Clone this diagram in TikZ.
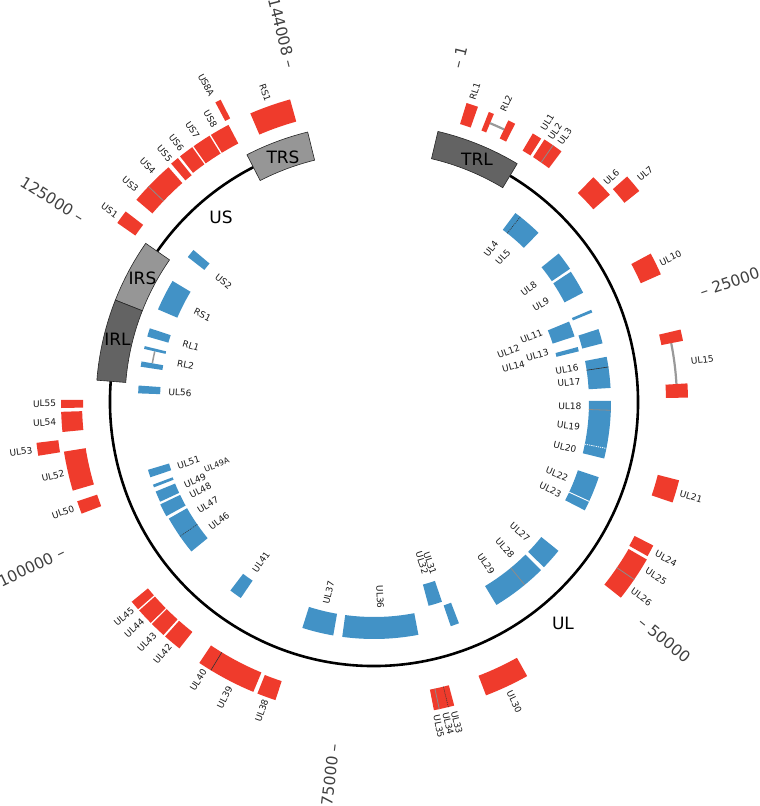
\documentclass[tikz,border=0pt]{standalone}
\usepackage{fontspec}
\setmainfont{DejaVu Sans}
\definecolor{gred}{HTML}{EF3B2C}
\definecolor{gblue}{HTML}{4292C6}
\definecolor{rdark}{HTML}{636363}
\definecolor{rlight}{HTML}{969696}
\newcommand{\sect}[5]{\path[#1] (#2:#4pt) arc[start angle=#2, end angle=#3, radius=#4pt] -- (#3:#5pt) arc[start angle=#3, end angle=#2, radius=#5pt] -- cycle;}
\newcommand{\divl}[4]{\draw[#1] (#2:#3pt) -- (#2:#4pt);}
\newcommand{\glab}[4]{\pgfmathsetmacro{\labrot}{cos(#2)>=0 ? #2 : #2+180}\node[lbl, rotate=\labrot] (#1) at (#2:#3pt) {#4};}
\newcommand{\ticklab}[3]{%
  \pgfmathtruncatemacro{\tright}{cos(#2)>=0 ? 1 : 0}%
  \ifnum\tright=1
    \node[tk, rotate=#2, anchor=west] (#1) at (#2:344pt) {\textendash\ #3};
  \else
    \pgfmathsetmacro{\trot}{#2+180}%
    \node[tk, rotate=\trot, anchor=east] (#1) at (#2:344pt) {#3 \textendash};
  \fi}
\begin{document}
\begin{tikzpicture}[x=1pt,y=1pt,
  red/.style={fill=gred},
  blue/.style={fill=gblue},
  rdk/.style={fill=rdark, draw=black!85, line width=0.6pt},
  rlt/.style={fill=rlight, draw=black!85, line width=0.6pt},
  lbl/.style={font=\fontsize{9}{10}\selectfont, text=black!90, inner sep=0pt},
  slbl/.style={font=\fontsize{8}{9}\selectfont, text=black!90, inner sep=0pt},
  tk/.style={font=\fontsize{15.5}{17}\selectfont, text=black!75, inner sep=0pt},
  big/.style={font=\fontsize{17}{19}\selectfont, text=black, inner sep=0pt},
  gdiv/.style={draw=black!45, line width=0.8pt},
  ddiv/.style={draw=black!80, line width=0.6pt},
  dotdiv/.style={draw=black!80, line width=0.6pt, dash pattern=on 1pt off 1pt},
  wdiv/.style={draw=white, line width=0.9pt},
  wdot/.style={draw=white, line width=0.8pt, dash pattern=on 1.2pt off 1pt},
  splice/.style={draw=black!40, line width=2.2pt}]
\useasboundingbox (-374,-404) rectangle (386,402);
% genome circle
\draw[line width=2.6pt] (59:264pt) arc[start angle=59, end angle=-242.8, radius=264pt];
% repeat regions
\sect{rdk}{76.7}{59.0}{250}{278}
\sect{rlt}{103.8}{117.2}{249}{278}
\sect{rlt}{145.2}{158.5}{249}{278}
\sect{rdk}{158.5}{175.5}{249}{278}
\node[big] (TRL) at (103,243) {TRL};
\node[big] (TRS) at (-91,245) {TRS};
\node[big] (IRS) at (-231.5,124) {IRS};
\node[big] (IRL) at (-256.5,63) {IRL};
\node[big] (US) at (-153,185) {US};
\node[big] (UL) at (189,-221) {UL};
% ticks
\ticklab{t1}{76}{1}
\ticklab{t25}{18.6}{25000}
\ticklab{t50}{-39.3}{50000}
\ticklab{t75}{-96.7}{75000}
\ticklab{t100}{-154.3}{100000}
\ticklab{t125}{147.8}{125000}
\ticklab{t144}{104}{144008}
% ---------- outer (red) genes ----------
\sect{red}{70.6}{72.8}{291}{313}
\sect{red}{67.4}{68.4}{292}{312}
\sect{red}{63.1}{64.5}{292}{312}
\draw[splice] (64.5:302pt) arc[start angle=64.5, end angle=67.4, radius=302pt];
\sect{red}{57.6}{59.4}{292}{312}
\sect{red}{53.2}{57.0}{292}{313}
\divl{gdiv}{55.1}{292}{313}
\sect{red}{41.3}{45.7}{292}{314}
\sect{red}{38.5}{41.7}{320}{339}
\sect{red}{24.0}{28.2}{292}{314}
\draw[splice] (3.4:303pt) arc[start angle=3.4, end angle=11.2, radius=303pt];
\sect{red}{11.2}{13.3}{293}{315}
\sect{red}{0.8}{3.4}{292}{314}
\sect{red}{-18.6}{-14.4}{293}{315}
\sect{red}{-29.4}{-27.2}{293}{314}
\sect{red}{-38.4}{-30.0}{294}{315}
\divl{gdiv}{-34.3}{294}{315}
\sect{red}{-69.1}{-60.8}{293}{314}
\sect{red}{-79.0}{-75.2}{293}{314}
\divl{gdiv}{-78.0}{293}{314}
\divl{dotdiv}{-76.3}{293}{314}
\sect{red}{-111.8}{-108.3}{294}{314}
\sect{red}{-123.8}{-112.6}{293}{314}
\divl{ddiv}{-121.3}{293}{314}
\sect{red}{-131.7}{-128.3}{293}{314}
\sect{red}{-135.0}{-132.1}{293}{314}
\sect{red}{-138.4}{-135.3}{293}{314}
\sect{red}{-140.5}{-138.7}{293}{314}
\sect{red}{198.5}{200.9}{292}{313}
\sect{red}{189.1}{196.4}{292}{314}
\sect{red}{186.9}{189.1}{318}{340}
\sect{red}{181.8}{185.5}{292}{313}
\sect{red}{179.6}{181.1}{291}{313}
\sect{red}{142.5}{145.1}{291}{313}
\sect{red}{131.2}{139.6}{291}{312}
\divl{gdiv}{136.3}{291}{312}
\sect{red}{128.8}{130.4}{291}{313}
\sect{red}{125.5}{128.3}{292}{313}
\sect{red}{121.7}{125.2}{292}{313}
\sect{red}{117.7}{121.4}{292}{313}
\sect{red}{116.9}{117.9}{318}{339}
\sect{red}{105.5}{113.2}{291}{314}
% outer labels
\glab{oRL1}{72}{326.5}{RL1}
\glab{oRL2}{66.1}{326.6}{RL2}
\glab{oUL1}{58.2}{329}{UL1}
\glab{oUL2}{56.2}{325.5}{UL2}
\glab{oUL3}{54.3}{327}{UL3}
\glab{oUL6}{43.4}{326.8}{UL6}
\glab{oUL7}{40.1}{354.5}{UL7}
\glab{oUL10}{25.9}{329.6}{UL10}
\glab{oUL15}{7.3}{331}{UL15}
\glab{oUL21}{-16.6}{330.8}{UL21}
\glab{oUL24}{-28.2}{331.3}{UL24}
\glab{oUL25}{-31.7}{331.6}{UL25}
\glab{oUL26}{-36.1}{331}{UL26}
\glab{oUL30}{-64.9}{330.8}{UL30}
\glab{oUL33}{-75.5}{331}{UL33}
\glab{oUL34}{-77.0}{330}{UL34}
\glab{oUL35}{-78.7}{331}{UL35}
\glab{oUL38}{-110.0}{328.4}{UL38}
\glab{oUL39}{-116.8}{331}{UL39}
\glab{oUL40}{-122.3}{329}{UL40}
\glab{oUL42}{-130.0}{329}{UL42}
\glab{oUL43}{-133.4}{330.4}{UL43}
\glab{oUL44}{-136.7}{329.3}{UL44}
\glab{oUL45}{-139.3}{329.7}{UL45}
\glab{oUL50}{199.5}{329.9}{UL50}
\glab{oUL52}{193}{329.4}{UL52}
\glab{oUL53}{188}{356.5}{UL53}
\glab{oUL54}{183.6}{330}{UL54}
\glab{oUL55}{180.3}{329.5}{UL55}
\glab{oUS1}{144.1}{326.5}{US1}
\glab{oUS3}{138.2}{326.8}{US3}
\glab{oUS4}{133.8}{327}{US4}
\glab{oUS5}{130.1}{325}{US5}
\glab{oUS6}{127.3}{326}{US6}
\glab{oUS7}{123.7}{327}{US7}
\glab{oUS8}{120.0}{327.3}{US8}
\glab{oUS8A}{117.9}{358.5}{US8A}
\glab{oRS1}{109.4}{327.7}{RS1}
% ---------- inner (blue) genes ----------
\sect{blue}{45.8}{53.2}{215}{236}
\divl{dotdiv}{51.7}{215}{236}
\sect{blue}{34.2}{38.8}{215}{237}
\sect{blue}{27.6}{33.5}{215}{236}
\sect{blue}{22.3}{23.0}{215}{236}
\sect{blue}{18.1}{22.4}{188}{211}
\sect{blue}{14.4}{18.0}{215}{236}
\sect{blue}{13.9}{15.1}{188}{211}
\sect{blue}{3.4}{11.0}{215}{237}
\divl{ddiv}{8.5}{215}{237}
\sect{blue}{-13.8}{0.3}{215}{237}
\divl{gdiv}{-2.0}{215}{237}
\divl{wdot}{-11.3}{215}{237}
\sect{blue}{-27.2}{-18.5}{215}{237}
\divl{wdiv}{-24.8}{215}{237}
\sect{blue}{-44.2}{-38.9}{215}{237}
\sect{blue}{-58.9}{-45.2}{215}{237}
\divl{gdiv}{-50.5}{215}{237}
\sect{blue}{-71.1}{-69.0}{215}{237}
\sect{blue}{-75.0}{-71.2}{189}{211}
\sect{blue}{-97.7}{-79.2}{215}{237}
\sect{blue}{-107.6}{-99.9}{215}{237}
\sect{blue}{-127.3}{-124.2}{216}{237}
\sect{blue}{209.6}{219.3}{215}{236}
\divl{dotdiv}{214.7}{215}{236}
\sect{blue}{205.6}{208.8}{215}{237}
\sect{blue}{202.3}{205.0}{215}{236}
\sect{blue}{200.5}{201.2}{215}{236}
\sect{blue}{196.7}{198.6}{214}{236}
\sect{blue}{176.0}{177.9}{214}{236}
\draw[draw=black!40, line width=1.5pt] (167.0:225pt) arc[start angle=167.0, end angle=170.1, radius=225pt];
\sect{blue}{166.3}{167.0}{214}{236}
\sect{blue}{170.1}{171.4}{214}{236}
\sect{blue}{161.8}{163.9}{214}{236}
\sect{blue}{149.0}{156.8}{214}{235}
\sect{blue}{139.9}{142.1}{215}{236}
% inner labels
\glab{iUL4}{52.6}{192.6}{UL4}
\glab{iUL5}{48.3}{194}{UL5}
\glab{iUL8}{36.2}{192}{UL8}
\glab{iUL9}{30.3}{193.4}{UL9}
\glab{iUL11}{22.6}{170.6}{UL11}
\glab{iUL12}{20.6}{143.7}{UL12}
\glab{iUL13}{16.0}{170.1}{UL13}
\glab{iUL14}{14.3}{144}{UL14}
\glab{iUL16}{9.7}{195.8}{UL16}
\glab{iUL17}{5.7}{196}{UL17}
\glab{iUL18}{-1.2}{196}{UL18}
\glab{iUL19}{-7.0}{196}{UL19}
\glab{iUL20}{-13.3}{196.2}{UL20}
\glab{iUL22}{-21.5}{196.7}{UL22}
\glab{iUL23}{-26.4}{197}{UL23}
\glab{iUL27}{-41.7}{195.5}{UL27}
\glab{iUL28}{-48.1}{196}{UL28}
\glab{iUL29}{-55.3}{197}{UL29}
\glab{iUL31}{-70.8}{170.5}{UL31}
\glab{iUL32}{-73.4}{168}{UL32}
\glab{iUL36}{-88.2}{195}{UL36}
\glab{iUL37}{-103.4}{195.9}{UL37}
\glab{iUL41}{-125.2}{195.9}{UL41}
\glab{iUL46}{217.5}{195.4}{UL46}
\glab{iUL47}{211.8}{195.4}{UL47}
\glab{iUL48}{207}{194.8}{UL48}
\glab{iUL49}{203.7}{195.5}{UL49}
\pgfmathsetmacro{\labrot}{201.8+180}
\node[slbl, rotate=\labrot] (iUL49A) at (201.8:169.4pt) {UL49A};
\glab{iUL51}{198.1}{195.1}{UL51}
\glab{iUL56}{177.2}{194.2}{UL56}
\glab{iRL2}{168.9}{192}{RL2}
\glab{iRL1}{163}{191.4}{RL1}
\glab{iRS1}{153.1}{192.3}{RS1}
\glab{iUS2}{141.3}{192.8}{US2}
\end{tikzpicture}
\end{document}
